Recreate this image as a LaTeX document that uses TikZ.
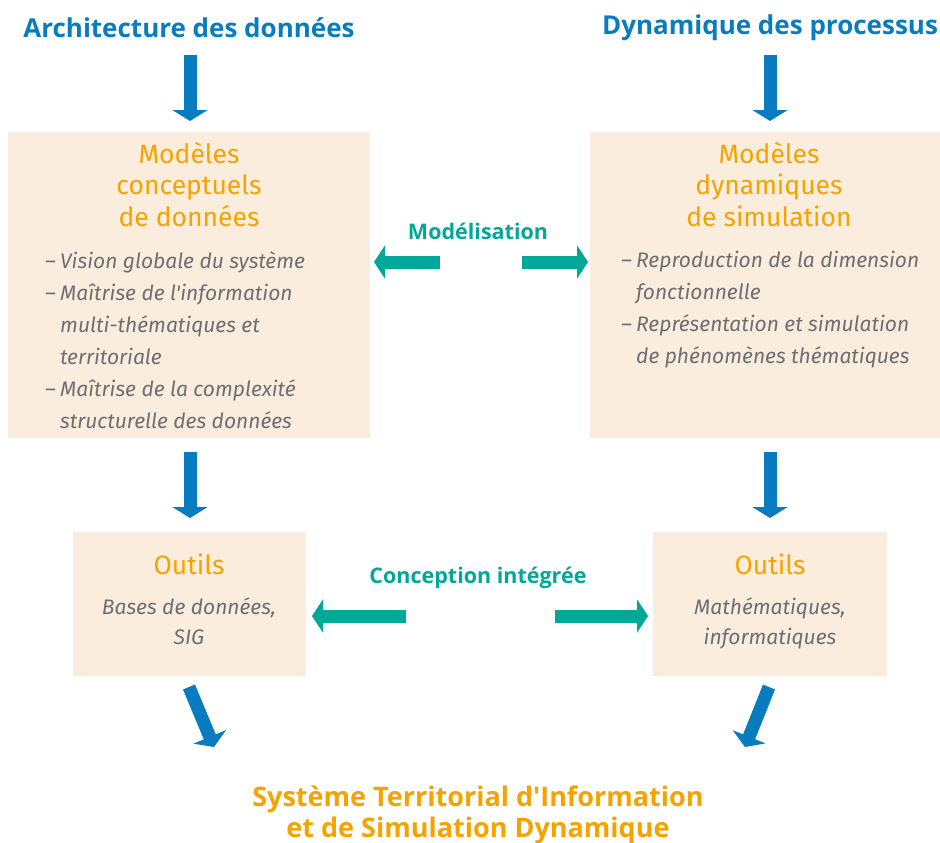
\documentclass[tikz,border=0pt]{standalone}
\usepackage{fontspec}
\setmainfont{Fira Sans}[Ligatures=TeXOff]
\newfontfamily\boldfam{Open Sans}
\usetikzlibrary{arrows.meta}
\definecolor{blu}{RGB}{8,124,190}
\definecolor{tea}{RGB}{0,168,152}
\definecolor{ora}{RGB}{245,163,0}
\definecolor{beig}{RGB}{251,237,222}
\definecolor{gry}{RGB}{110,110,113}
\tikzset{
  box/.style={fill=beig, draw=none, inner sep=0},
  maintitle/.style={text=blu, font={\boldfam\fontsize{26}{31}\selectfont\bfseries}, inner sep=0},
  boxtitle/.style={text=ora, font={\fontsize{26.5}{31.5}\selectfont}, align=center, inner sep=0},
  bullets/.style={text=gry, font={\fontsize{21}{32}\selectfont\itshape}, align=left, inner sep=0},
  tools/.style={text=gry, font={\fontsize{21}{30.5}\selectfont\itshape}, align=center, inner sep=0},
  linklabel/.style={text=tea, font={\boldfam\fontsize{21.5}{24}\selectfont\bfseries}, inner sep=0},
  endtitle/.style={text=ora, font={\boldfam\fontsize{27}{31}\selectfont\bfseries}, align=center, inner sep=0},
  bluearrow/.style={draw=blu, line width=13pt, -{Triangle[length=11pt,width=35pt]}},
  tealarrow/.style={draw=tea, line width=13pt, -{Triangle[length=11pt,width=33pt]}},
}
\newcommand{\dsh}{\makebox[15pt][l]{–}}
\begin{document}
\begin{tikzpicture}[x=1pt,y=-1pt]
\useasboundingbox (0,0) rectangle (940,843);
% titles
\node[maintitle] (tA) at (189,28) {Architecture des données};
\node[maintitle] (tB) at (770,28) {Dynamique des processus};
% boxes
\node[box, minimum width=362pt, minimum height=306pt] (bA) at (189,285) {};
\node[box, minimum width=350pt, minimum height=306pt] (bB) at (765,285) {};
\node[box, minimum width=233pt, minimum height=144pt] (oA) at (189.5,604) {};
\node[box, minimum width=234pt, minimum height=144pt] (oB) at (770,604) {};
% box titles
\node[boxtitle, anchor=north] (mA) at (189,142) {Modèles\\conceptuels\\de données};
\node[boxtitle, anchor=north] (mB) at (769,142) {Modèles\\dynamiques\\de simulation};
% bullets
\node[bullets, anchor=north west] (lA) at (45,251) {\dsh Vision globale du système\\
\dsh Maîtrise de l'information\\
\hspace*{15pt}multi-thématiques et\\
\hspace*{15pt}territoriale\\
\dsh Maîtrise de la complexité\\
\hspace*{15pt}structurelle des données};
\node[bullets, anchor=north west] (lB) at (621,251) {\dsh Reproduction de la dimension\\
\hspace*{15pt}fonctionnelle\\
\dsh Représentation et simulation\\
\hspace*{15pt}de phénomènes thématiques};
% tools
\node[boxtitle, anchor=north] (uA) at (189,554) {Outils};
\node[boxtitle, anchor=north] (uB) at (770,554) {Outils};
\node[tools, anchor=north] (dA) at (189,597) {Bases de données,\\SIG};
\node[tools, anchor=north] (dB) at (770,597) {Mathématiques,\\informatiques};
% link labels
\node[linklabel] (kA) at (478,231) {Modélisation};
\node[linklabel] (kB) at (478,578) {Conception intégrée};
% final title
\node[endtitle, anchor=north] (fin) at (478,786) {Système Territorial d'Information\\et de Simulation Dynamique};
% coordinates for arrows
\coordinate (a1s) at (190,55);  \coordinate (a1e) at (190,121);
\coordinate (a2s) at (770,55);  \coordinate (a2e) at (770,121);
\coordinate (a3s) at (190,452); \coordinate (a3e) at (190,518);
\coordinate (a4s) at (770,452); \coordinate (a4e) at (770,518);
\coordinate (a5s) at (189,687); \coordinate (a5e) at (214,747);
\coordinate (a6s) at (769,687); \coordinate (a6e) at (745,747);
\coordinate (t1s) at (440,262); \coordinate (t1e) at (374,262);
\coordinate (t2s) at (522,262); \coordinate (t2e) at (588,262);
\coordinate (t3s) at (406,616); \coordinate (t3e) at (312,616);
\coordinate (t4s) at (555,616); \coordinate (t4e) at (648,616);
\draw[bluearrow] (a1s) -- (a1e);
\draw[bluearrow] (a2s) -- (a2e);
\draw[bluearrow] (a3s) -- (a3e);
\draw[bluearrow] (a4s) -- (a4e);
\draw[bluearrow] (a5s) -- (a5e);
\draw[bluearrow] (a6s) -- (a6e);
\draw[tealarrow] (t1s) -- (t1e);
\draw[tealarrow] (t2s) -- (t2e);
\draw[tealarrow] (t3s) -- (t3e);
\draw[tealarrow] (t4s) -- (t4e);
\end{tikzpicture}
\end{document}
